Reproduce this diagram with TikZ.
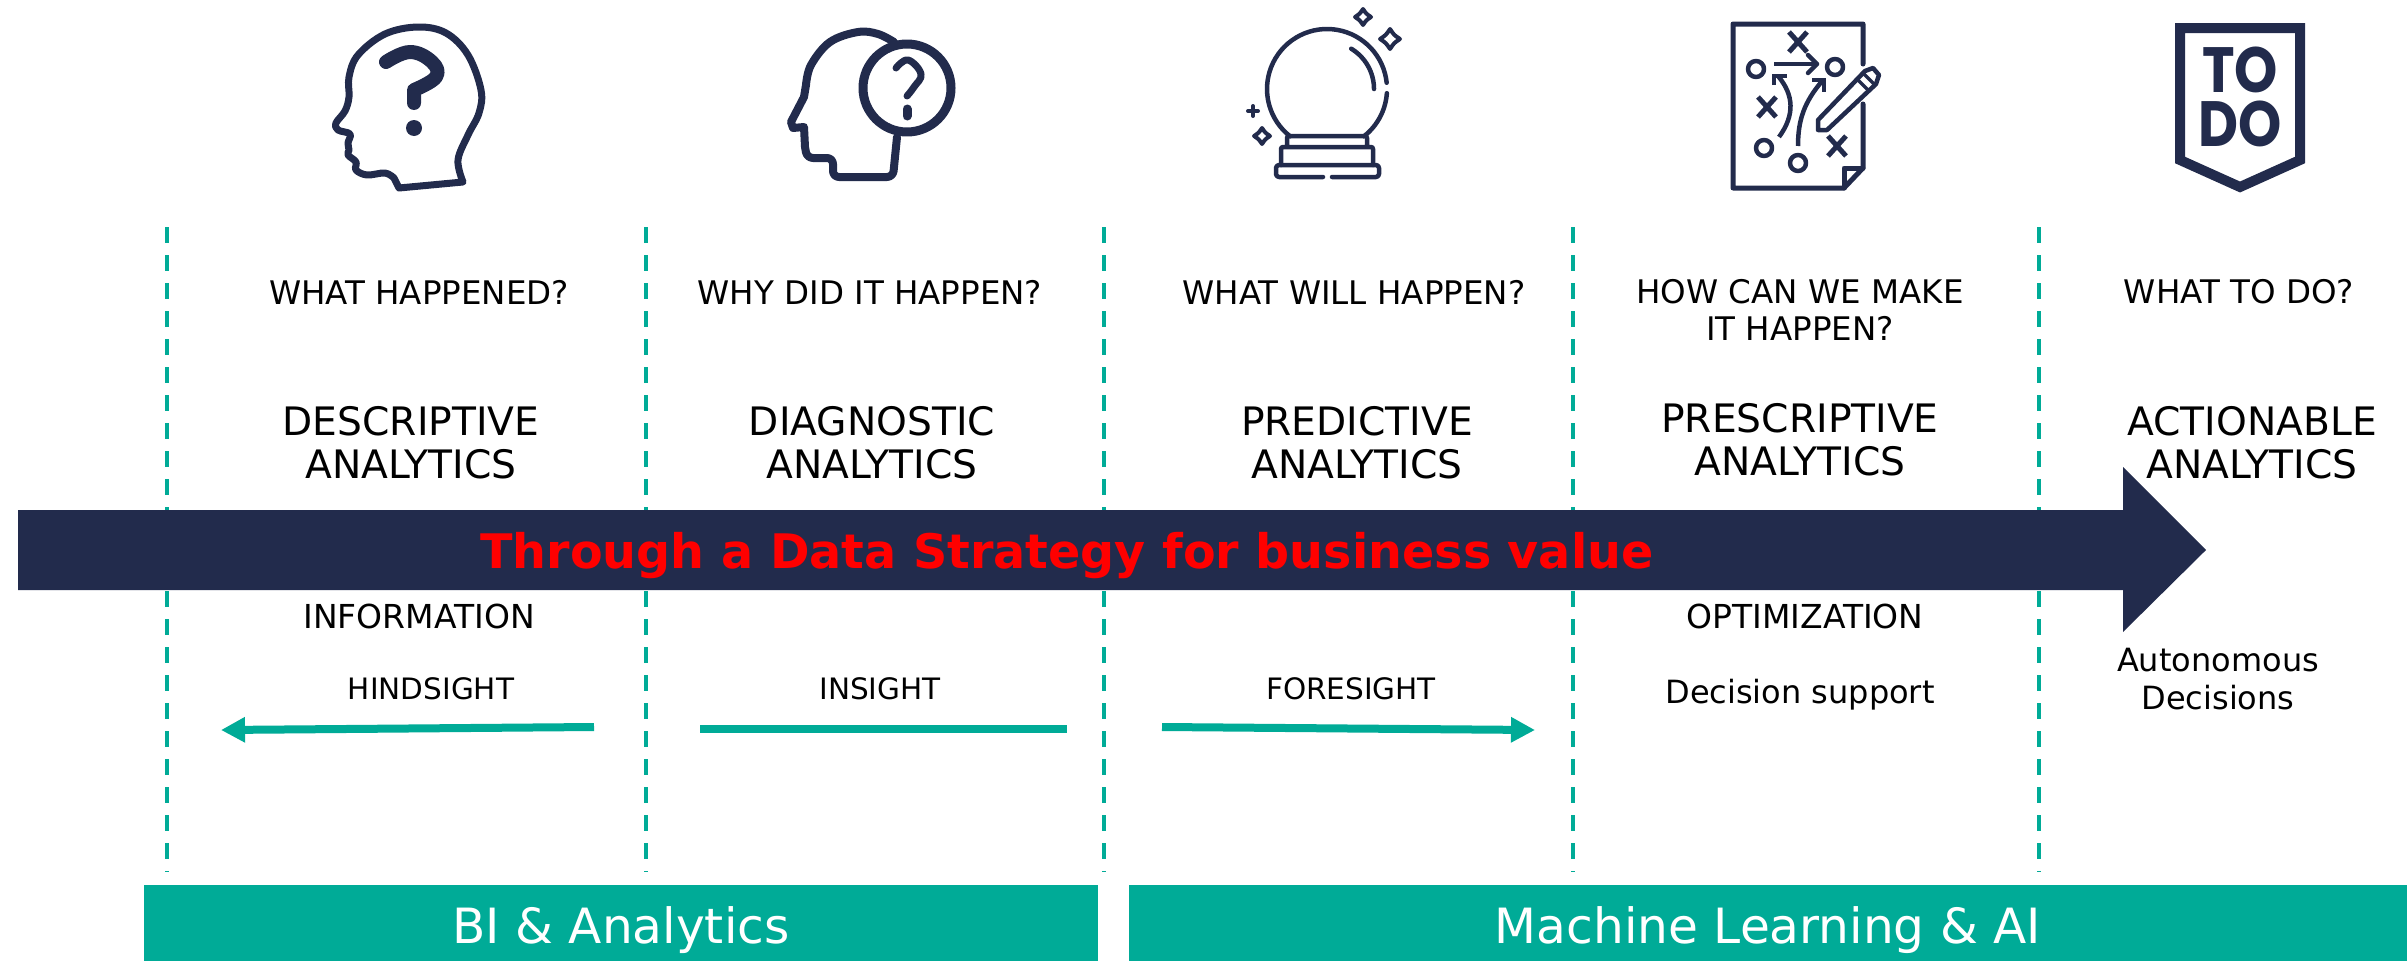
\documentclass[tikz,border=0pt]{standalone}
\usepackage{fontspec}
\usepackage{xcolor}
\setmainfont{DejaVu Sans}
\newfontfamily\todofont{Poppins}
\usetikzlibrary{arrows.meta}
\definecolor{navy}{HTML}{222B4C}
\definecolor{teal}{HTML}{00AB97}
\def\sz#1#2{\fontsize{#1pt}{#2pt}\selectfont}
\def\sparkle#1#2#3{\draw[icon,line width=4pt] (#1-#3,#2) .. controls (#1-#3*.4,#2-#3*.4) .. (#1,#2-#3) .. controls (#1+#3*.4,#2-#3*.4) .. (#1+#3,#2) .. controls (#1+#3*.4,#2+#3*.4) .. (#1,#2+#3) .. controls (#1-#3*.4,#2+#3*.4) .. cycle}
\def\cross#1#2{\draw[icon,line width=5pt,line cap=butt] (#1-9,#2-10) -- (#1+9,#2+10) (#1+9,#2-10) -- (#1-9,#2+10)}
\tikzstyle{icon}=[draw=navy,line cap=round,line join=round]
\tikzstyle{quest}=[text=black,align=center,font=\sz{32.5}{37}]
\tikzstyle{kind}=[text=black,align=center,font=\sz{39.2}{43}]
\tikzstyle{note}=[text=black,align=center,font=\sz{32}{38}]
\tikzstyle{hint}=[text=black,font=\sz{29.5}{34}]
\tikzstyle{band}=[fill=teal,text=white,inner sep=0pt,minimum height=90pt,font=\sz{48.6}{54}]
\tikzstyle{sepline}=[draw=teal,line width=3.4pt,dash pattern=on 16pt off 12pt]
\tikzstyle{flow}=[draw=teal,line width=8pt]
\begin{document}
\begin{tikzpicture}[x=1pt,y=-1pt]
    \useasboundingbox (0,0) rectangle (2407,961);
    % separators
    \foreach \n/\x in {a/167,b/646,c/1104,d/1573,e/2039} {
      \coordinate (\n top) at (\x,227);
      \coordinate (\n bot) at (\x,872);
      \draw[sepline] (\n top) -- (\n bot);
    }
    % head with question mark
    \draw[icon,line width=7pt] plot[smooth,tension=.6] coordinates {(463,182) (458,160) (468,135) (479,113) (481,90) (468,55) (446,33) (418,27) (385,34) (358,55) (349,77) (349,97) (345,111) (336,123) (338,130) (350,134) (348,143) (349,150) (348,155) (356,162) (356,170) (367,175) (385,173) (394,178)} -- (399,188) -- cycle;
    \draw[icon,line width=14pt] plot[smooth,tension=.7] coordinates {(386,62) (410,52) (432,62) (436,77) (414,90)} -- (414,103);
    \fill[navy] (414,128) ellipse (8pt and 8pt);
    % head with bubble
    \draw[icon,line width=8pt] plot[smooth,tension=.6] coordinates {(894,42) (878,34) (858,32) (830,42) (811,65) (806,85)} -- (804,97) -- (791,122) -- (793,128) -- (804,127) -- (805,147) [rounded corners=6pt] -- (807,158) -- (833,158) -- (833,177) -- (893,177) -- (897,137);
    \draw[icon,line width=9pt] (907,88) circle (44pt);
    \draw[icon,line width=7pt] plot[smooth,tension=.7] coordinates {(896,68) (908,60) (921,74) (914,87) (907,96)};
    \draw[icon,line width=9pt] (907,109) -- (907,116);
    % crystal ball
    \draw[icon,line width=4.5pt] plot[domain=-232:-6,samples=50] ({1327+60*cos(\x)},{89+60*sin(\x)});
    \draw[icon,line width=4.5pt] plot[domain=4:52,samples=20] ({1327+60*cos(\x)},{89+60*sin(\x)});
    \draw[icon,line width=4.5pt] plot[domain=-59:0,samples=20] ({1327+47*cos(\x)},{89+47*sin(\x)});
    \draw[icon,line width=4.5pt,rounded corners=2pt] (1287,146) -- (1287,136) -- (1367,136) -- (1367,146) (1281,165) -- (1281,147) -- (1373,147) -- (1373,165);
    \draw[icon,line width=4.5pt,rounded corners=3pt] (1323,177) -- (1276,177) -- (1276,165) -- (1379,165) -- (1379,177) -- (1332,177);
    \sparkle{1363}{17}{8};
    \sparkle{1390}{39}{10};
    \sparkle{1262}{136}{8};
    \draw[icon,line width=4pt] (1248,111) -- (1258,111) (1253,106) -- (1253,116);
    % playbook page
    \draw[icon,line width=5pt] (1863,64) -- (1863,24) -- (1733,24) -- (1733,188) -- (1844,188) -- (1863,168) -- (1863,104);
    \draw[icon,line width=5pt] (1844,188) -- (1844,168) -- (1863,168);
    \foreach \x/\y in {1756/69,1835/67,1764/148,1798/163} \draw[icon,line width=4.5pt] (\x,\y) circle (8pt);
    \cross{1798}{42};
    \cross{1767}{107};
    \cross{1837}{146};
    \draw[icon,line width=4.5pt,line cap=butt] (1774,64) -- (1816,64);
    \draw[icon,line width=4.5pt] (1808,55) -- (1817,64) -- (1808,73);
    \draw[icon,line width=4.5pt,line cap=butt] (1779,137) .. controls (1795,115) and (1794,95) .. (1778,76);
    \draw[icon,line width=4.5pt,line cap=butt,line join=miter] (1774,85) -- (1774,76) -- (1787,76);
    \draw[icon,line width=4.5pt,line cap=butt] (1798,146) .. controls (1798,120) and (1804,102) .. (1823,80);
    \draw[icon,line width=4.5pt,line cap=butt,line join=miter] (1812,80) -- (1824,80) -- (1824,92);
    \draw[icon,line width=4.5pt] (1818,120) -- (1865,71) -- (1873,68) -- (1879,75) -- (1876,84) -- (1827,130) -- (1818,130) -- cycle;
    \draw[icon,line width=3.5pt] (1858,80) -- (1868,90) (1864,74) -- (1874,84);
    % to do badge
    \draw[navy,line width=10pt,line join=miter] (2180,28) -- (2300,28) -- (2300,160) -- (2240,187) -- (2180,160) -- cycle;
    \node[text=navy,inner sep=0pt,align=center,xscale=.86,font=\todofont\bfseries\sz{64}{54}] (todo) at (2240,97) {TO\\DO};
    % questions
    \node[quest] (q1) at (419,292) {WHAT HAPPENED?};
    \node[quest] (q2) at (870,292) {WHY DID IT HAPPEN?};
    \node[quest] (q3) at (1354,292) {WHAT WILL HAPPEN?};
    \node[quest] (q4) at (1800,310) {HOW CAN WE MAKE\\IT HAPPEN?};
    \node[quest] (q5) at (2239,292) {WHAT TO DO?};
    % kinds
    \node[kind] (k1) at (411,443) {DESCRIPTIVE\\ANALYTICS};
    \node[kind] (k2) at (872,443) {DIAGNOSTIC\\ANALYTICS};
    \node[kind] (k3) at (1357,443) {PREDICTIVE\\ANALYTICS};
    \node[kind] (k4) at (1800,440) {PRESCRIPTIVE\\ANALYTICS};
    \node[kind] (k5) at (2252,443) {ACTIONABLE\\ANALYTICS};
    % main arrow
    \fill[navy] (18,510) -- (2123,510) -- (2123,467) -- (2206,550) -- (2123,632) -- (2123,590) -- (18,590) -- cycle;
    \node[text=red,font=\bfseries\sz{47.6}{52}] (strategy) at (1067,556) {Through a Data Strategy for business value};
    % below the arrow
    \node[note,font=\sz{33}{38}] (n1) at (419,616) {INFORMATION};
    \node[note,font=\sz{33}{38}] (n2) at (1805,616) {OPTIMIZATION};
    \node[hint] (h) at (431,689) {HINDSIGHT};
    \node[hint] (i) at (880,689) {INSIGHT};
    \node[hint] (f) at (1351,689) {FORESIGHT};
    \node[note] (n3) at (1800,695) {Decision support};
    \node[note] (n4) at (2218,679) {Autonomous\\Decisions};
    \coordinate (hs) at (594,727);
    \coordinate (he) at (221,730);
    \coordinate (is) at (700,729);
    \coordinate (ie) at (1067,729);
    \coordinate (fs) at (1162,727);
    \coordinate (fe) at (1535,730);
    \draw[flow,-{Triangle[length=24pt,width=24pt]}] (hs) -- (he);
    \draw[flow] (is) -- (ie);
    \draw[flow,-{Triangle[length=24pt,width=24pt]}] (fs) -- (fe);
    % bands
    \node[band,minimum width=954pt] (bi) at (621,930) {BI \& Analytics};
    \node[band,minimum width=1278pt] (ml) at (1768,930) {Machine Learning \& AI};
  \end{tikzpicture}
\end{document}
